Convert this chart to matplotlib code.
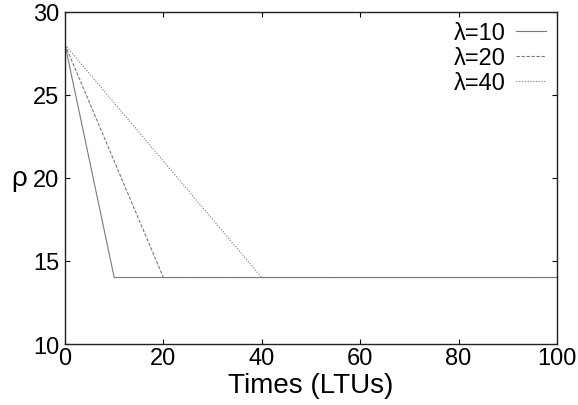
import numpy as np
import matplotlib
matplotlib.use("Agg")
import matplotlib.pyplot as plt

plt.rcParams['font.family'] = ['Liberation Sans', 'DejaVu Sans']

# data: rho drops linearly from 28 to 14 over lambda LTUs then stays flat
times_10 = [0, 10, 100]
rho_10 = [28, 14, 14]
times_20 = [0, 20, 100]
rho_20 = [28, 14, 14]
times_40 = [0, 40, 100]
rho_40 = [28, 14, 14]
labels = ["λ=10", "λ=20", "λ=40"]
xticks = [0, 20, 40, 60, 80, 100]
yticks = [10, 15, 20, 25, 30]

fig = plt.figure(figsize=(5.78, 4.06), dpi=100)
ax = fig.add_axes([0.1125, 0.1502, 0.851, 0.819])

ax.plot(times_10, rho_10, color="#7a7a7a", lw=0.8, ls="-", label=labels[0])
ax.plot(times_20, rho_20, color="#7a7a7a", lw=0.8, ls=(0, (3, 1.5)), label=labels[1])
ax.plot(times_40, rho_40, color="#7a7a7a", lw=0.8, ls=(0, (1, 1.5)), label=labels[2])

ax.set_xlim(0, 100)
ax.set_ylim(10, 30)
ax.set_xticks(xticks)
ax.set_yticks(yticks)
ax.tick_params(direction="in", top=True, right=True, labelsize=17, length=3.5, width=0.8)
ax.tick_params(axis="x", pad=2)
ax.tick_params(axis="y", pad=4)
for s in ax.spines.values():
    s.set_linewidth(1.0)
    s.set_color("#222222")

ax.set_xlabel("Times (LTUs)", fontsize=20, labelpad=2)
ax.set_ylabel("ρ", fontsize=20, rotation=0, labelpad=10, va="center")

leg = ax.legend(loc="upper right", frameon=False, fontsize=17, markerfirst=False,
                handlelength=1.3, handletextpad=0.4, labelspacing=0.12,
                borderaxespad=0.45, borderpad=0.0)

fig.savefig("out.png", dpi=100)
